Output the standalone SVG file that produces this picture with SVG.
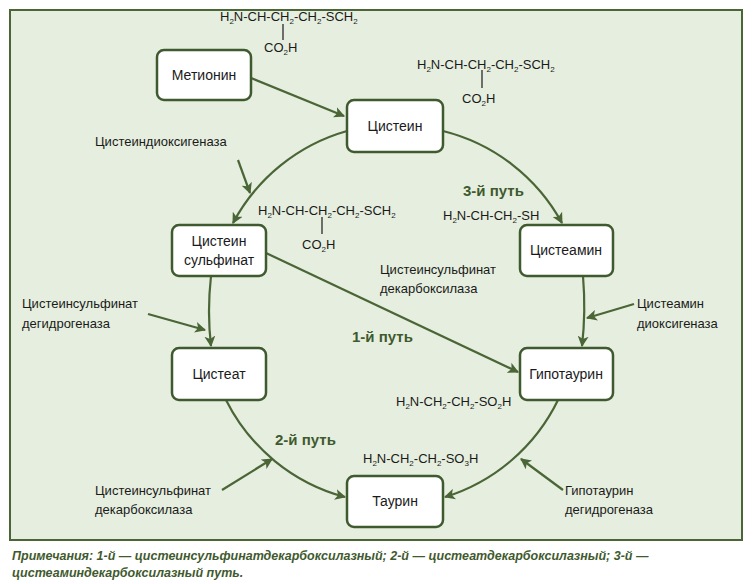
<svg xmlns="http://www.w3.org/2000/svg" width="753" height="584" viewBox="0 0 753 584">
<style>
.node rect{fill:#fff;stroke:#3f5a2e;stroke-width:2.5}
.nt{font-family:"Liberation Sans Narrow","Liberation Sans",sans-serif;font-size:14px;fill:#1a1a1a;text-anchor:middle}
.t{font-family:"Liberation Sans Narrow","Liberation Sans",sans-serif;font-size:13px;fill:#1a1a1a}
.f{font-family:"Liberation Sans Narrow","Liberation Sans",sans-serif;font-size:13px;fill:#1a1a1a}
.p{font-family:"Liberation Sans Narrow","Liberation Sans",sans-serif;font-size:15px;font-weight:bold;fill:#3f5a2e}
.c path,.c line{fill:none;stroke:#4a6536;stroke-width:2.2}
.s{font-size:8px}
</style>
<defs>
<marker id="a" viewBox="0 0 10 10" refX="9" refY="5" markerWidth="5" markerHeight="5" orient="auto"><path d="M0,0 L10,5 L0,10 L2.5,5 Z" fill="#4a6536"/></marker>
</defs>
<rect x="10" y="10" width="732" height="530" fill="#e6efdf" stroke="#4a6536" stroke-width="2"/>
<g class="c">
<line x1="251" y1="78" x2="344" y2="116" marker-end="url(#a)"/>
<path d="M347,131 A187,187 0 0 0 233,223" marker-end="url(#a)"/>
<path d="M443,131 A187,187 0 0 1 562,223" marker-end="url(#a)"/>
<path d="M211,276 Q207,312 211,346" marker-end="url(#a)"/>
<path d="M583,276 Q586,312 582,346" marker-end="url(#a)"/>
<path d="M226,400 A187,187 0 0 0 345,497" marker-end="url(#a)"/>
<path d="M558,400 A187,187 0 0 1 445,497" marker-end="url(#a)"/>
<line x1="266" y1="253" x2="518" y2="372" marker-end="url(#a)"/>
<line x1="238" y1="160" x2="250" y2="193" marker-end="url(#a)"/>
<line x1="148" y1="314" x2="205" y2="330" marker-end="url(#a)"/>
<line x1="634" y1="304" x2="587" y2="318" marker-end="url(#a)"/>
<line x1="222" y1="490" x2="272" y2="459" marker-end="url(#a)"/>
<line x1="563" y1="490" x2="521" y2="459" marker-end="url(#a)"/>
<line x1="283" y1="24" x2="283" y2="40" style="stroke:#1a1a1a;stroke-width:1.2"/>
<line x1="482" y1="70" x2="482" y2="88" style="stroke:#1a1a1a;stroke-width:1.2"/>
<line x1="322" y1="217" x2="322" y2="234" style="stroke:#1a1a1a;stroke-width:1.2"/>
</g>
<g id="n-met" class="node"><rect x="157" y="50" width="94" height="50" rx="7"/><text class="nt" x="204" y="80">Метионин</text></g>
<g id="n-cys" class="node"><rect x="347" y="100" width="96" height="52" rx="7"/><text class="nt" x="395" y="131">Цистеин</text></g>
<g id="n-csa" class="node"><rect x="172" y="225" width="94" height="51" rx="7"/><text class="nt" x="219" y="246">Цистеин</text><text class="nt" x="219" y="265">сульфинат</text></g>
<g id="n-cym" class="node"><rect x="520" y="225" width="93" height="51" rx="7"/><text class="nt" x="566" y="255">Цистеамин</text></g>
<g id="n-cyt" class="node"><rect x="172" y="348" width="94" height="52" rx="7"/><text class="nt" x="219" y="379">Цистеат</text></g>
<g id="n-hyp" class="node"><rect x="520" y="348" width="93" height="52" rx="7"/><text class="nt" x="566" y="379">Гипотаурин</text></g>
<g id="n-tau" class="node"><rect x="347" y="476" width="96" height="51" rx="7"/><text class="nt" x="395" y="506">Таурин</text></g>
<g id="labels">
<text class="f" x="220" y="21">H<tspan class="s" dy="3">2</tspan><tspan dy="-3">N-CH-CH</tspan><tspan class="s" dy="3">2</tspan><tspan dy="-3">-CH</tspan><tspan class="s" dy="3">2</tspan><tspan dy="-3">-SCH</tspan><tspan class="s" dy="3">2</tspan></text>
<text class="f" x="264" y="52">CO<tspan class="s" dy="3">2</tspan><tspan dy="-3">H</tspan></text>
<text class="f" x="417" y="69">H<tspan class="s" dy="3">2</tspan><tspan dy="-3">N-CH-CH</tspan><tspan class="s" dy="3">2</tspan><tspan dy="-3">-CH</tspan><tspan class="s" dy="3">2</tspan><tspan dy="-3">-SCH</tspan><tspan class="s" dy="3">2</tspan></text>
<text class="f" x="462" y="103">CO<tspan class="s" dy="3">2</tspan><tspan dy="-3">H</tspan></text>
<text class="f" x="258" y="215">H<tspan class="s" dy="3">2</tspan><tspan dy="-3">N-CH-CH</tspan><tspan class="s" dy="3">2</tspan><tspan dy="-3">-CH</tspan><tspan class="s" dy="3">2</tspan><tspan dy="-3">-SCH</tspan><tspan class="s" dy="3">2</tspan></text>
<text class="f" x="302" y="249">CO<tspan class="s" dy="3">2</tspan><tspan dy="-3">H</tspan></text>
<text class="f" x="443" y="220">H<tspan class="s" dy="3">2</tspan><tspan dy="-3">N-CH-CH</tspan><tspan class="s" dy="3">2</tspan><tspan dy="-3">-SH</tspan></text>
<text class="f" x="396" y="406">H<tspan class="s" dy="3">2</tspan><tspan dy="-3">N-CH</tspan><tspan class="s" dy="3">2</tspan><tspan dy="-3">-CH</tspan><tspan class="s" dy="3">2</tspan><tspan dy="-3">-SO</tspan><tspan class="s" dy="3">2</tspan><tspan dy="-3">H</tspan></text>
<text class="f" x="363" y="463">H<tspan class="s" dy="3">2</tspan><tspan dy="-3">N-CH</tspan><tspan class="s" dy="3">2</tspan><tspan dy="-3">-CH</tspan><tspan class="s" dy="3">2</tspan><tspan dy="-3">-SO</tspan><tspan class="s" dy="3">3</tspan><tspan dy="-3">H</tspan></text>
<text class="t" x="95" y="146">Цистеиндиоксигеназа</text>
<text class="t" x="22" y="308">Цистеинсульфинат</text><text class="t" x="22" y="328">дегидрогеназа</text>
<text class="t" x="380" y="274">Цистеинсульфинат</text><text class="t" x="380" y="293">декарбоксилаза</text>
<text class="t" x="637" y="308">Цистеамин</text><text class="t" x="637" y="328">диоксигеназа</text>
<text class="t" x="95" y="495">Цистеинсульфинат</text><text class="t" x="95" y="514">декарбоксилаза</text>
<text class="t" x="565" y="495">Гипотаурин</text><text class="t" x="565" y="514">дегидрогеназа</text>
<text class="p" x="463" y="196">3-й путь</text>
<text class="p" x="352" y="342">1-й путь</text>
<text class="p" x="275" y="445">2-й путь</text>
</g>
<g font-family="'Liberation Sans',sans-serif" font-size="12.5" font-weight="bold" font-style="italic" fill="#3f5a2e">
<text x="12" y="560">Примечания: 1-й — цистеинсульфинатдекарбоксилазный; 2-й — цистеатдекарбоксилазный; 3-й —</text>
<text x="12" y="577">цистеаминдекарбоксилазный путь.</text>
</g>
</svg>
